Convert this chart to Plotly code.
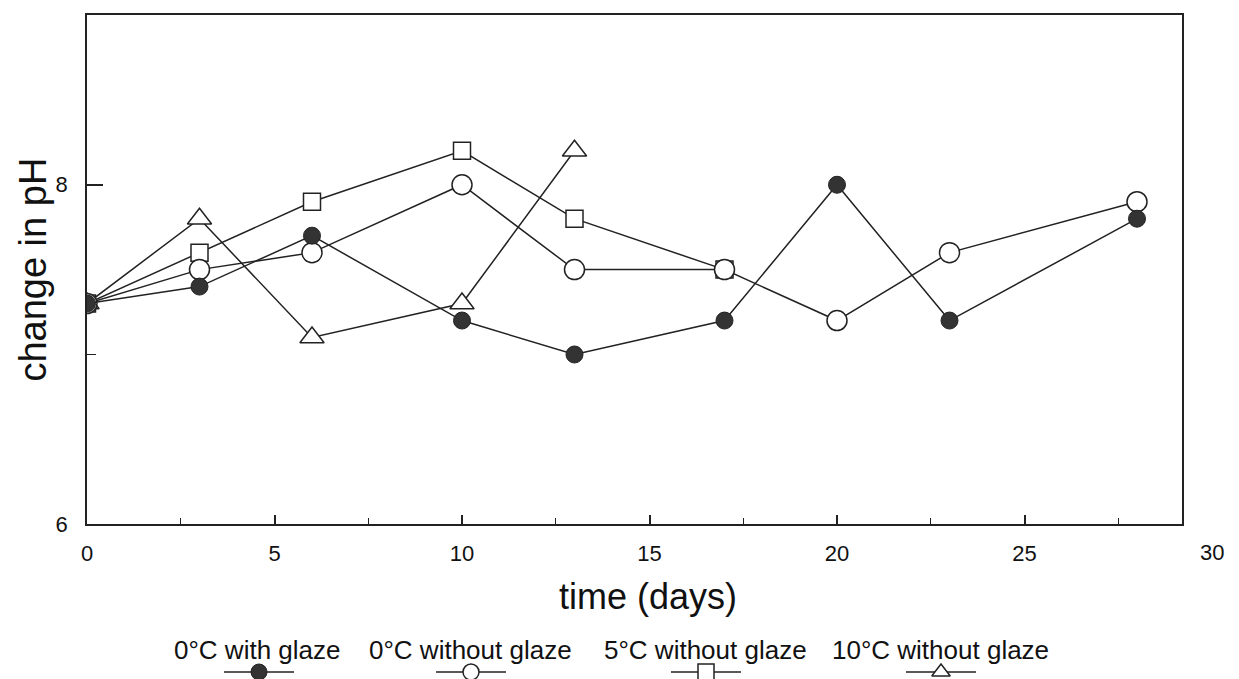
import plotly.graph_objects as go

# Storage time (days) and measured pH for each treatment
days_0c_glaze = [0, 3, 6, 10, 13, 17, 20, 23, 28]
ph_0c_glaze = [7.3, 7.4, 7.7, 7.2, 7.0, 7.2, 8.0, 7.2, 7.8]

days_0c_noglaze = [0, 3, 6, 10, 13, 17, 20, 23, 28]
ph_0c_noglaze = [7.3, 7.5, 7.6, 8.0, 7.5, 7.5, 7.2, 7.6, 7.9]

days_5c_noglaze = [0, 3, 6, 10, 13, 17]
ph_5c_noglaze = [7.3, 7.6, 7.9, 8.2, 7.8, 7.5]

days_10c_noglaze = [0, 3, 6, 10, 13]
ph_10c_noglaze = [7.3, 7.8, 7.1, 7.3, 8.2]

x_tick_values = [0, 5, 10, 15, 20, 25, 30]
y_tick_values = [6, 8]

legend_labels = ["0°C with glaze", "0°C without glaze", "5°C without glaze", "10°C without glaze"]

# ---- layout constants (pixels) ----
W, H = 1239, 679
PAGE_H = 691  # requested figure height; the visible page is H pixels tall
M_L, M_R, M_T, M_B = 87, 57, 15, 0
AXIS_BOTTOM_PX = 525
X_MAX = 29.2
Y_RANGE = [6, 9]
FONT = "Arial, Liberation Sans, Helvetica, sans-serif"
INK = "#222222"
TEXT = "#111111"

plot_h = H - M_T - M_B
main_domain_bottom = (H - M_B - AXIS_BOTTOM_PX) / plot_h


def marker_for(i, size=None):
    if i == 0:
        st = dict(symbol="circle", size=17, color="#333333", line=dict(color=INK, width=1))
    else:
        sym, sz = [("circle", 20), ("square", 17), ("triangle-up", 21)][i - 1]
        st = dict(symbol=sym, size=sz, color="white", line=dict(color=INK, width=1.5))
    if size is not None:
        st["size"] = size
    return st


series = [
    (days_0c_glaze, ph_0c_glaze),
    (days_0c_noglaze, ph_0c_noglaze),
    (days_5c_noglaze, ph_5c_noglaze),
    (days_10c_noglaze, ph_10c_noglaze),
]

fig = go.Figure()

# draw the filled-circle series last so it sits on top
for i in [3, 2, 1, 0]:
    xs, ys = series[i]
    fig.add_trace(go.Scatter(
        x=xs, y=ys, mode="lines+markers",
        line=dict(color=INK, width=1.5),
        marker=marker_for(i),
        name=legend_labels[i], showlegend=False,
        xaxis="x", yaxis="y",
    ))

# ---- custom legend below the axes (x2/y2 measured in page pixels) ----
legend_centers = [259, 471, 706, 941]
legend_text_x = [257, 470, 705, 940]
LEG_LINE_Y = 673
LEG_TEXT_Y = 651
for i, cx in enumerate(legend_centers):
    fig.add_trace(go.Scatter(
        x=[cx - 35, cx + 35], y=[LEG_LINE_Y, LEG_LINE_Y], mode="lines",
        line=dict(color=INK, width=1.5), showlegend=False, hoverinfo="skip",
        xaxis="x2", yaxis="y2", cliponaxis=False,
    ))
    fig.add_trace(go.Scatter(
        x=[cx], y=[LEG_LINE_Y], mode="markers",
        marker=marker_for(i, size=16), showlegend=False, hoverinfo="skip",
        xaxis="x2", yaxis="y2", cliponaxis=False,
    ))

annotations = []
for i, tx in enumerate(legend_text_x):
    annotations.append(dict(
        text=legend_labels[i], x=tx, y=LEG_TEXT_Y, xref="x2", yref="y2",
        showarrow=False, xanchor="center", yanchor="middle",
        font=dict(family=FONT, size=26, color=TEXT),
    ))

# axis titles
annotations.append(dict(
    text="time (days)", x=648, y=597, xref="x2", yref="y2",
    showarrow=False, xanchor="center", yanchor="middle",
    font=dict(family=FONT, size=36, color=TEXT),
))
annotations.append(dict(
    text="change in pH", x=(33 - M_L) / (W - M_L - M_R), y=(main_domain_bottom + 1) / 2,
    xref="paper", yref="paper", textangle=-90,
    showarrow=False, xanchor="center", yanchor="middle",
    font=dict(family=FONT, size=38, color=TEXT),
))

# final x tick label lies just past the frame
annotations.append(dict(
    text=str(x_tick_values[-1]), x=x_tick_values[-1] / X_MAX, y=553,
    xref="paper", yref="y2", showarrow=False, xanchor="center", yanchor="middle",
    font=dict(family=FONT, size=22, color=TEXT),
))

fig.update_layout(
    width=W, height=PAGE_H,
    margin=dict(l=M_L, r=M_R, t=M_T, b=M_B),
    paper_bgcolor="white", plot_bgcolor="white",
    font=dict(family=FONT, color=TEXT),
    xaxis=dict(
        range=[0, X_MAX], domain=[0, 1], anchor="y",
        tickmode="array", tickvals=x_tick_values[:-1],
        ticks="inside", ticklen=9, tickwidth=1.5, tickcolor=INK,
        minor=dict(dtick=2.5, tick0=0, ticks="inside", ticklen=6, tickwidth=1.2, tickcolor=INK),
        showline=True, linecolor=INK, linewidth=1.8, mirror=True,
        showgrid=False, zeroline=False,
        tickfont=dict(family=FONT, size=22, color=TEXT),
        ticklabelstandoff=8,
    ),
    yaxis=dict(
        range=Y_RANGE, domain=[main_domain_bottom, 1], anchor="x",
        tickmode="array", tickvals=y_tick_values,
        ticks="inside", ticklen=16, tickwidth=1.5, tickcolor=INK,
        minor=dict(dtick=1, tick0=6, ticks="inside", ticklen=9, tickwidth=1.2, tickcolor=INK),
        showline=True, linecolor=INK, linewidth=1.8, mirror=True,
        showgrid=False, zeroline=False,
        tickfont=dict(family=FONT, size=22, color=TEXT),
        ticklabelstandoff=13,
    ),
    xaxis2=dict(range=[M_L, W - M_R], domain=[0, 1], anchor="y2", visible=False, fixedrange=True),
    yaxis2=dict(range=[H - M_B, AXIS_BOTTOM_PX], domain=[0, main_domain_bottom], anchor="x2",
                visible=False, fixedrange=True),
    annotations=annotations,
    showlegend=False,
)

fig.write_html("out.html")
